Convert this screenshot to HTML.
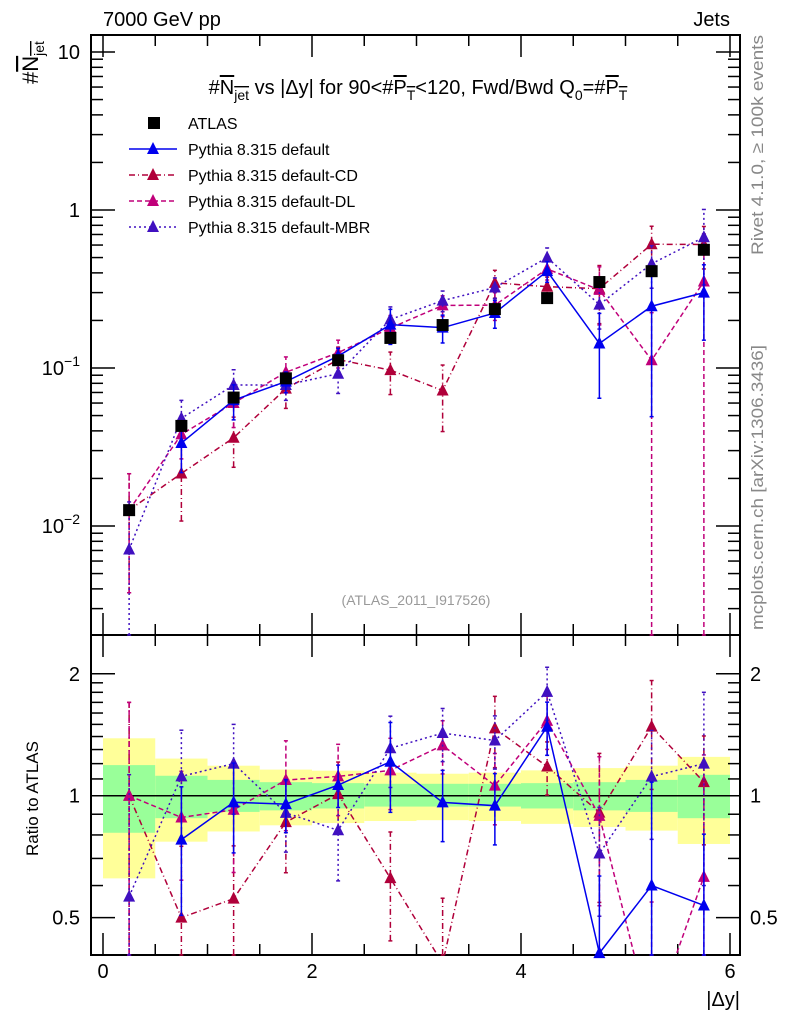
<!DOCTYPE html>
<html><head><meta charset="utf-8"><style>
html,body{margin:0;padding:0;background:#fff;}
svg{display:block;font-family:"Liberation Sans",sans-serif;}
</style></head><body>
<svg id="c" width="786" height="1024" viewBox="0 0 786 1024"></svg>
<script>
const xCenters=[0.25,0.75,1.25,1.75,2.25,2.75,3.25,3.75,4.25,4.75,5.25,5.75];
const dataVals=[0.0126,0.043,0.065,0.086,0.112,0.155,0.187,0.236,0.277,0.35,0.41,0.56];
const dataErr=[0.08,0.05,0.05,0.05,0.05,0.05,0.05,0.05,0.05,0.05,0.05,0.05];
const defVals=[null,0.0335,0.0626,0.082,0.119,0.188,0.18,0.223,0.41,0.143,0.246,0.30];
const defErr=[0,0.35,0.25,0.15,0.12,0.25,0.2,0.2,0.15,0.55,0.8,0.5];
const cdVals=[0.0126,0.0215,0.0362,0.074,0.113,0.097,0.072,0.346,0.327,0.318,0.607,0.605];
const cdErr=[0.7,0.5,0.35,0.25,0.2,0.3,0.45,0.2,0.15,0.4,0.3,0.3];
const dlVals=[0.0126,0.038,0.060,0.094,0.125,0.179,0.249,0.25,0.424,0.312,0.112,0.353];
const dlErr=[0.7,0.3,0.3,0.25,0.2,0.2,0.15,0.2,0.15,0.4,1.0,1.0];
const mbrVals=[0.0071,0.048,0.078,0.078,0.092,0.203,0.267,0.323,0.50,0.252,0.457,0.672];
const mbrErr=[1.0,0.3,0.25,0.2,0.25,0.2,0.15,0.15,0.15,0.3,0.3,0.5];
const yellowUp=[1.386,1.235,1.186,1.16,1.153,1.14,1.133,1.14,1.155,1.17,1.186,1.247];
const yellowDn=[0.625,0.77,0.816,0.845,0.856,0.866,0.87,0.866,0.852,0.837,0.82,0.76];
const greenUp=[1.19,1.12,1.094,1.08,1.074,1.07,1.07,1.07,1.074,1.08,1.094,1.126];
const greenDn=[0.81,0.88,0.912,0.92,0.93,0.94,0.94,0.94,0.93,0.92,0.912,0.88];
const xTickLabels=["0","2","4","6"];

const svg=document.getElementById('c');
const NS='http://www.w3.org/2000/svg';
function mk(tag,attrs,parent){const e=document.createElementNS(NS,tag);for(const k in attrs)e.setAttribute(k,attrs[k]);(parent||svg).appendChild(e);return e;}
const L=91,R=740,T=35,M=635,B=955;
const X=v=>103+v*104.5;
const Y=v=>526-(Math.log10(v)+2)*158;
const RY=v=>795.7-Math.log10(v)*405;
const clampT=y=>Math.min(M,Math.max(T,y));
const clampR=y=>Math.min(B,Math.max(M,y));

// ratio bands
const bands=mk('g',{});


xCenters.forEach((c,i)=>{
  const r1=mk('rect',{x:X(c-0.25),y:RY(yellowUp[i]),width:X(0.5)-X(0),height:RY(yellowDn[i])-RY(yellowUp[i]),fill:'#ffff99'},bands);
  
  
  const r2=mk('rect',{x:X(c-0.25),y:RY(greenUp[i]),width:X(0.5)-X(0),height:RY(greenDn[i])-RY(greenUp[i]),fill:'#99ff99'},bands);
  
  
});
mk('line',{x1:L,x2:R,y1:RY(1),y2:RY(1),stroke:'#000','stroke-width':1.5});

// frames
const f1=mk('rect',{x:L,y:T,width:R-L,height:M-T,fill:'none',stroke:'#000','stroke-width':2});


const f2=mk('rect',{x:L,y:M,width:R-L,height:B-M,fill:'none',stroke:'#000','stroke-width':2});



// x ticks
for(let k=0;k<=12;k++){const v=k*0.5,x=X(v),len=(k%4==0)?22:11;
  [[T,1],[M,-1],[M,1],[B,-1]].forEach(([y0,d])=>mk('line',{x1:x,x2:x,y1:y0,y2:y0+d*len,stroke:'#000','stroke-width':1.5}));}
xTickLabels.forEach((t,i)=>{const tx=mk('text',{x:X(i*2),y:978,'font-size':20,'text-anchor':'middle'});tx.textContent=t;
  
  });
const xt=mk('text',{x:740,y:1006,'font-size':20,'text-anchor':'end'});xt.textContent='|Δy|';



// y ticks top (log)
for(let d=-3;d<=1;d++){for(let m=1;m<=9;m++){const v=m*Math.pow(10,d);const y=Y(v);if(y<T||y>M)continue;const len=m==1?24:12;
  mk('line',{x1:L,x2:L+len,y1:y,y2:y,stroke:'#000','stroke-width':1.5});mk('line',{x1:R,x2:R-len,y1:y,y2:y,stroke:'#000','stroke-width':1.5});}}
[[10,'10'],[1,'1']].forEach(([v,t])=>{const e=mk('text',{x:80,y:Y(v)+7,'font-size':20,'text-anchor':'end'});e.textContent=t;
  
  });
[[0.1,'−1'],[0.01,'−2']].forEach(([v,t])=>{const e=mk('text',{x:80,y:Y(v)+7,'font-size':20,'text-anchor':'end'});
  e.innerHTML='10<tspan dy="-9" font-size="14">'+t+'</tspan>';
  
  });
// ratio ticks
const rt=[0.5,0.6,0.7,0.8,0.9,1,1.1,1.2,1.3,1.4,1.5,1.6,1.7,1.8,1.9,2];
rt.forEach(v=>{const y=RY(v),len=(v==0.5||v==1||v==2)?24:12;
  mk('line',{x1:L,x2:L+len,y1:y,y2:y,stroke:'#000','stroke-width':1.5});mk('line',{x1:R,x2:R-len,y1:y,y2:y,stroke:'#000','stroke-width':1.5});});
[[0.5,'0.5'],[1,'1'],[2,'2']].forEach(([v,t])=>{
  const a=mk('text',{x:80,y:RY(v)+7,'font-size':20,'text-anchor':'end'});a.textContent=t;
  
  
  const b=mk('text',{x:750,y:RY(v)+7,'font-size':20});b.textContent=t;
  
  });

// series
function tri(x,y,col,g){return mk('polygon',{points:`${x-6},${y+5} ${x+6},${y+5} ${x},${y-7}`,fill:col},g);}
function series(name,vals,errs,col,dash,ratio){
  const g=mk('g',{});
  
  
  const yf=ratio?(v,i)=>RY(v/dataVals[i]):(v)=>Y(v);
  const cl=ratio?clampR:clampT;
  let pts=[];
  vals.forEach((v,i)=>{if(v==null)return;const x=X(xCenters[i]);const y=yf(v,i);pts.push([x,y]);
    const lo=v*(1-errs[i]),hi=v*(1+errs[i]);
    const y1=lo<=0?(ratio?B:M):cl(yf(lo,i)),y2=cl(yf(hi,i));
    mk('line',{x1:x,x2:x,y1:y1,y2:y2,stroke:col,'stroke-width':1.5,'stroke-dasharray':dash},g);
    mk('line',{x1:x-2,x2:x+2,y1:y2,y2:y2,stroke:col,'stroke-width':1.5},g);
    mk('line',{x1:x-2,x2:x+2,y1:y1,y2:y1,stroke:col,'stroke-width':1.5},g);
  });
  const cp=mk('clipPath',{id:'cp'+name+ratio},g);mk('rect',{x:L,y:ratio?M:T,width:R-L,height:ratio?B-M:M-T},cp);
  mk('polyline',{points:pts.map(p=>p.join(',')).join(' '),fill:'none',stroke:col,'stroke-width':1.5,'stroke-dasharray':dash,'clip-path':`url(#cp${name}${ratio})`},g);
  pts.forEach(p=>{if(p[1]>=(ratio?M:T)&&p[1]<=(ratio?B:M))tri(p[0],p[1],col,g);});
}
const specs=[['pythia-cd',cdVals,cdErr,'#b0003a','6,3,1,3'],['pythia-dl',dlVals,dlErr,'#c0007a','5,3'],['pythia-mbr',mbrVals,mbrErr,'#4010c0','2,3'],['pythia-default',defVals,defErr,'#0000ee','']];
[false,true].forEach(r=>specs.forEach(s=>series(s[0],s[1],s[2],s[3],s[4],r)));
// data
const dg=mk('g',{});


dataVals.forEach((v,i)=>{const x=X(xCenters[i]),y=Y(v);
  mk('line',{x1:x,x2:x,y1:Y(v*(1-dataErr[i])),y2:Y(v*(1+dataErr[i])),stroke:'#000','stroke-width':1.5},dg);
  mk('rect',{x:x-6,y:y-6,width:12,height:12,fill:'#000'},dg);});

// texts
function txt(x,y,s,html,attrs,name){const e=mk('text',Object.assign({x:x,y:y,'font-size':20},attrs||{}));e.innerHTML=html;
  
  return e;}
txt(103,26,0,'7000 GeV pp',{},'energy-label');
txt(730,26,0,'Jets',{'text-anchor':'end'},'process-label');
txt(418,94,0,'#<tspan text-decoration="overline">N<tspan font-size="14" dy="6">jet</tspan></tspan><tspan dy="-6"> vs |Δy| for 90&lt;#</tspan><tspan text-decoration="overline">P<tspan font-size="14" dy="6">T</tspan></tspan><tspan dy="-6">&lt;120, Fwd/Bwd Q</tspan><tspan font-size="14" dy="6">0</tspan><tspan dy="-6">=#</tspan><tspan text-decoration="overline">P<tspan font-size="14" dy="6">T</tspan></tspan>',{'text-anchor':'middle'},'plot-title');
txt(0,0,0,'#<tspan text-decoration="overline">N<tspan font-size="14" dy="6">jet</tspan></tspan>',{'font-size':22,transform:'translate(38,84) rotate(-90)'},'y-axis-title');
txt(0,0,0,'Ratio to ATLAS',{'font-size':17,transform:'translate(38,856) rotate(-90)'},'ratio-axis-title');
txt(0,0,0,'Rivet 4.1.0, ≥ 100k events',{'font-size':17,textLength:220,lengthAdjust:'spacingAndGlyphs',fill:'#888',transform:'translate(763,255) rotate(-90)'},'rivet-label');
txt(0,0,0,'mcplots.cern.ch [arXiv:1306.3436]',{'font-size':17,textLength:285,lengthAdjust:'spacingAndGlyphs',fill:'#888',transform:'translate(763,630) rotate(-90)'},'mcplots-label');
txt(416,605,0,'(ATLAS_2011_I917526)',{'font-size':14,fill:'#999','text-anchor':'middle'},'analysis-id');
// legend
const lg=[['ATLAS',null],['Pythia 8.315 default',3],['Pythia 8.315 default-CD',0],['Pythia 8.315 default-DL',1],['Pythia 8.315 default-MBR',2]];
lg.forEach((e,i)=>{const y=123+i*26;const g=mk('g',{});
  
  
  if(e[1]==null)mk('rect',{x:148,y:y-6,width:12,height:12,fill:'#000'},g);
  else{const s=specs[e[1]];mk('line',{x1:129,x2:177,y1:y,y2:y,stroke:s[3],'stroke-width':1.5,'stroke-dasharray':s[4]},g);tri(153,y,s[3],g);}
  const t=mk('text',{x:188,y:y+6,'font-size':16},g);t.textContent=e[0];});
</script>
</body></html>
